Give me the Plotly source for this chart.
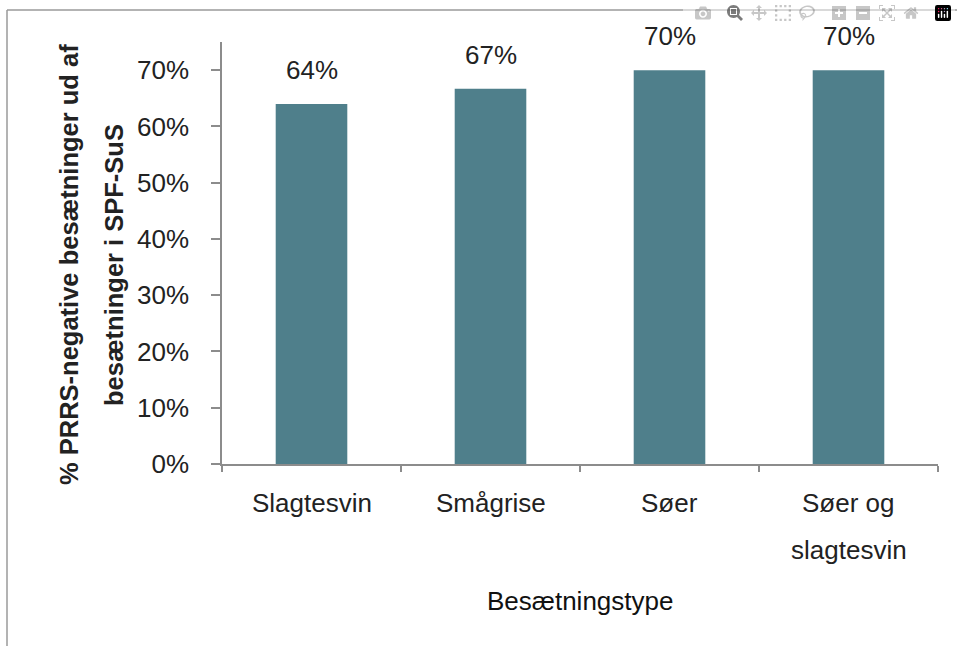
import plotly.graph_objects as go

categories = ["Slagtesvin", "Smågrise", "Søer", "Søer og slagtesvin"]
category_lines = [["Slagtesvin"], ["Smågrise"], ["Søer"], ["Søer og", "slagtesvin"]]
values = [0.64, 0.667, 0.70, 0.70]
value_labels = ["64%", "67%", "70%", "70%"]
y_ticks = [0, 0.1, 0.2, 0.3, 0.4, 0.5, 0.6, 0.7]
y_title_lines = ["% PRRS-negative besætninger ud af", "besætninger i SPF-SuS"]
x_title = "Besætningstype"

FONT = "Liberation Sans, Arial, sans-serif"
TXT = "#222222"
AX = "#8c8c8c"
BAR = "#4f7f8b"
FRAME = "#9a9a9a"

W, H = 957, 646
L, T, R, B = 222, 42, 19, 182
pw = W - L - R
ph = H - T - B
base_y = H - B
mid_y = T + ph / 2


def px_x(px):
    return (px - L) / pw


def px_y(py):
    return (H - B - py) / ph


fig = go.Figure()
fig.add_trace(go.Bar(x=categories, y=values, width=0.4, marker_color=BAR,
                     marker_line_width=0, hoverinfo="skip"))

ann = []
for c, v, t in zip(categories, values, value_labels):
    ann.append(dict(x=c, y=v, xref="x", yref="y", text=t, showarrow=False,
                    yanchor="middle", yshift=34, font=dict(size=26, color=TXT, family=FONT)))
for c, lines in zip(categories, category_lines):
    for i, ln in enumerate(lines):
        ann.append(dict(x=c, y=0, xref="x", yref="paper", text=ln, showarrow=False,
                        yanchor="middle", yshift=-39 - 47 * i,
                        font=dict(size=26, color=TXT, family=FONT)))
for i, ln in enumerate(y_title_lines):
    xc = [69, 114][i]
    ann.append(dict(x=0, y=0.5, xref="paper", yref="paper", text="<b>" + ln + "</b>",
                    showarrow=False, textangle=-90, xanchor="center", yanchor="middle",
                    xshift=xc - L, yshift=-(265 - mid_y),
                    font=dict(size=25.5, color=TXT, family=FONT)))
ann.append(dict(x=0.5, y=0, xref="paper", yref="paper", text=x_title, showarrow=False,
                yanchor="middle", yshift=-(601 - base_y),
                font=dict(size=26, color="#111111", family=FONT)))

# outer frame: left edge at x~7 and top edge at y~10, both inside the figure
shapes = [
    dict(type="line", xref="paper", yref="paper", x0=px_x(7), x1=px_x(7),
         y0=px_y(H), y1=px_y(10), line=dict(color=FRAME, width=1.5), layer="below"),
    dict(type="line", xref="paper", yref="paper", x0=px_x(7), x1=px_x(W),
         y0=px_y(10), y1=px_y(10), line=dict(color=FRAME, width=1.5), layer="below"),
]

fig.update_layout(
    width=W, height=H, margin=dict(l=L, r=R, t=T, b=B, pad=0),
    plot_bgcolor="white", paper_bgcolor="white", showlegend=False,
    font=dict(family=FONT, size=26, color=TXT),
    annotations=ann, shapes=shapes,
)
fig.update_xaxes(range=[-0.5, 3.5], showticklabels=False, tickson="boundaries",
                 ticks="outside", ticklen=6, tickwidth=1.5, tickcolor=AX, automargin=False,
                 showline=True, linecolor=AX, linewidth=1.5, showgrid=False, zeroline=False)
fig.update_yaxes(range=[0, 0.75], tickvals=y_ticks, tickformat=".0%", automargin=False,
                 ticks="outside", ticklen=9, tickwidth=1.5, tickcolor=AX,
                 showline=True, linecolor=AX, linewidth=1.5, showgrid=False, zeroline=False,
                 ticklabelstandoff=17, tickfont=dict(size=26, color=TXT, family=FONT))

page_js = ("document.documentElement.style.margin='0';"
           "document.body.style.margin='0';"
           "document.documentElement.style.overflow='hidden';"
           "document.body.style.overflow='hidden';")

fig.write_html("out.html", post_script=page_js)
